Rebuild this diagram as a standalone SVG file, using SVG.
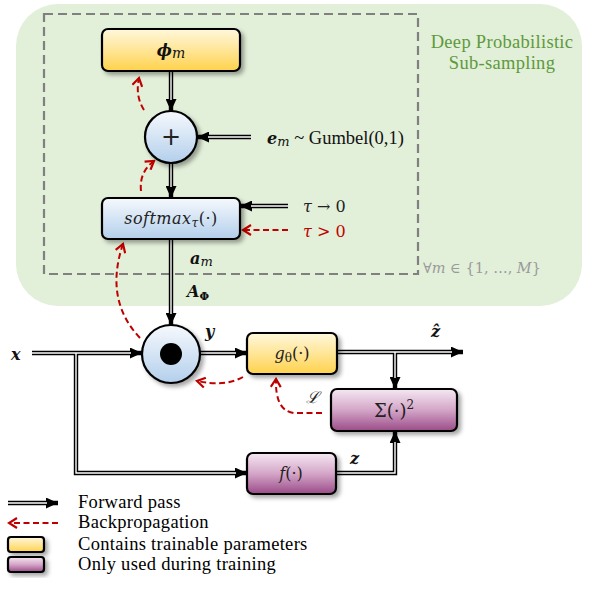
<svg xmlns="http://www.w3.org/2000/svg" width="598" height="593" viewBox="0 0 598 593">
<defs>
<linearGradient id="gy" x1="0" y1="0" x2="0" y2="1"><stop offset="0" stop-color="#fff8dc"/><stop offset="0.5" stop-color="#ffe597"/><stop offset="1" stop-color="#ffd24c"/></linearGradient>
<linearGradient id="gb" x1="0" y1="0" x2="0" y2="1"><stop offset="0" stop-color="#f6f9fd"/><stop offset="1" stop-color="#b3cfec"/></linearGradient>
<linearGradient id="gp" x1="0" y1="0" x2="0" y2="1"><stop offset="0" stop-color="#f5e8f2"/><stop offset="0.5" stop-color="#d4a6c8"/><stop offset="1" stop-color="#9a4b88"/></linearGradient>
<filter id="sh" x="-20%" y="-20%" width="150%" height="160%"><feDropShadow dx="3" dy="3" stdDeviation="2" flood-color="#000" flood-opacity="0.35"/></filter>
<marker id="ah" markerUnits="userSpaceOnUse" markerWidth="12" markerHeight="11" viewBox="0 0 12 11" refX="12" refY="5.5" orient="auto"><path d="M0,0 L12,5.5 L0,11 z" fill="#000"/></marker>
<marker id="rh" markerUnits="userSpaceOnUse" markerWidth="12" markerHeight="12" viewBox="0 0 12 12" refX="10" refY="6" orient="auto"><path d="M2,1 L10,6 L2,11" fill="none" stroke="#c00000" stroke-width="2.2"/></marker>
<style>
.box{stroke:#000;stroke-width:2.2;filter:url(#sh)}
.dl{fill:none;stroke:#000;stroke-width:4.4}
.dw{fill:none;stroke:#fff;stroke-width:1.4}
.red{fill:none;stroke:#c00000;stroke-width:2;stroke-dasharray:6,3.5}
.t{font-family:"Liberation Serif","DejaVu Serif",serif;font-size:18.5px;fill:#000;letter-spacing:0.3px}
.m{font-family:"DejaVu Serif","Liberation Serif",serif;font-style:italic;font-size:16px;fill:#222}
.b{font-family:"DejaVu Serif","Liberation Serif",serif;font-style:italic;font-weight:bold;font-size:16px;fill:#111}
</style>
</defs>
<rect x="16" y="4" width="566" height="302" rx="42" fill="#e2efd9"/>
<rect x="44" y="14" width="374" height="260" fill="none" stroke="#808080" stroke-width="2.2" stroke-dasharray="9,5"/>
<text class="t" x="502" y="48" text-anchor="middle" style="fill:#5e9a3c">Deep Probabilistic</text>
<text class="t" x="502" y="69" text-anchor="middle" style="fill:#5e9a3c">Sub-sampling</text>
<text x="423" y="273" font-family="DejaVu Serif,serif" font-size="14.5" fill="#9a9a9a"><tspan font-style="italic">∀m</tspan> ∈ {1, …, <tspan font-style="italic">M</tspan>}</text>

<g id="connectors">
<path class="dl" d="M171,71 V111" marker-end="url(#ah)"/><path class="dw" d="M171,71 V100"/>
<path class="dl" d="M171,163 V198" marker-end="url(#ah)"/><path class="dw" d="M171,163 V187"/>
<path class="dl" d="M251,137 H197" marker-end="url(#ah)"/><path class="dw" d="M251,137 H208"/>
<path class="dl" d="M288,206 H240" marker-end="url(#ah)"/><path class="dw" d="M288,206 H251"/>
<path class="dl" d="M171,239 V325" marker-end="url(#ah)"/><path class="dw" d="M171,239 V314"/>
<path class="dl" d="M32,353 H142" marker-end="url(#ah)"/>
<path class="dl" d="M76,353 V473 H247" marker-end="url(#ah)"/>
<path class="dw" d="M32,353 H131"/><path class="dw" d="M76,353 V473 H236"/>
<path class="dl" d="M200,353 H247" marker-end="url(#ah)"/><path class="dw" d="M200,353 H236"/>
<path class="dl" d="M337,352 H463" marker-end="url(#ah)"/>
<path class="dl" d="M395,352 V389" marker-end="url(#ah)"/>
<path class="dw" d="M337,352 H452"/><path class="dw" d="M395,352 V378"/>
<path class="dl" d="M336,473 H395 V431" marker-end="url(#ah)"/><path class="dw" d="M336,473 H395 V442"/>
<path class="red" d="M288,230 H243" marker-end="url(#rh)"/>
<path class="red" d="M144,110 Q135,96 139,78" marker-end="url(#rh)"/>
<path class="red" d="M141,191 Q139,172 154,161" marker-end="url(#rh)"/>
<path class="red" d="M140,338 Q104,300 123,244" marker-end="url(#rh)"/>
<path class="red" d="M243,377 Q225,387 197,381" marker-end="url(#rh)"/>
<path class="red" d="M322,413 H294 Q275,411 276,379" marker-end="url(#rh)"/>
</g>

<g id="phi"><rect class="box" x="102" y="29" width="138" height="42" rx="6" fill="url(#gy)"/>
<text class="b" x="171" y="56" text-anchor="middle" font-size="18">ϕ<tspan font-weight="normal" font-size="14" dy="2">m</tspan></text></g>
<g id="plus"><circle class="box" cx="171" cy="137" r="26" fill="url(#gb)"/>
<text x="171" y="145" text-anchor="middle" font-family="DejaVu Sans,sans-serif" font-size="24" fill="#222">+</text></g>
<g id="softmax"><rect class="box" x="102" y="198" width="138" height="41" rx="6" fill="url(#gb)"/>
<text class="m" x="171" y="224" text-anchor="middle" letter-spacing="0.5">softmax<tspan font-size="12" dy="3">τ</tspan><tspan dy="-3" font-style="normal">(·)</tspan></text></g>
<g id="dot"><circle class="box" cx="171" cy="354" r="29" fill="url(#gb)"/><circle cx="171" cy="354" r="11" fill="#000"/></g>
<g id="g"><rect class="box" x="247" y="333" width="90" height="41" rx="6" fill="url(#gy)"/>
<text class="m" x="292" y="359" text-anchor="middle">g<tspan font-size="12" dy="3" font-style="normal">θ</tspan><tspan dy="-3" font-style="normal">(·)</tspan></text></g>
<g id="sum"><rect class="box" x="331" y="389" width="126" height="42" rx="6" fill="url(#gp)"/>
<text x="394" y="417" text-anchor="middle" font-family="DejaVu Serif,serif" font-size="18" fill="#222">Σ(·)<tspan font-size="12" dy="-8">2</tspan></text></g>
<g id="f"><rect class="box" x="247" y="453" width="89" height="41" rx="6" fill="url(#gp)"/>
<text class="m" x="291" y="479" text-anchor="middle" font-size="17">f<tspan font-style="normal">(·)</tspan></text></g>

<g id="labels">
<text class="b" x="267" y="144">e<tspan font-weight="normal" font-size="13" dy="2">m</tspan><tspan dy="-2" font-style="normal" font-weight="normal" font-family="Liberation Serif,serif" font-size="18.5"> ~ Gumbel(0,1)</tspan></text>
<text class="m" x="303" y="212" font-size="17">τ <tspan font-style="normal">→ 0</tspan></text>
<text class="m" x="303" y="237" font-size="17" style="fill:#c00000">τ <tspan font-style="normal">&gt; 0</tspan></text>
<text class="b" x="190" y="264">a<tspan font-weight="normal" font-size="13" dy="2">m</tspan></text>
<text class="b" x="187" y="297">A<tspan font-size="11" dy="3" font-style="normal">Φ</tspan></text>
<text class="b" x="11" y="360" font-size="17">x</text>
<text class="b" x="205" y="337">y</text>
<text class="b" x="431" y="337">ẑ</text>
<text class="b" x="350" y="464">z</text>
<text class="m" x="306" y="403">ℒ</text>
</g>

<g id="legend">
<path class="dl" d="M8,503 H58" marker-end="url(#ah)"/><path class="dw" d="M8,503 H47"/>
<path class="red" d="M58,523 H9" marker-end="url(#rh)"/>
<rect class="box" x="8" y="537" width="36" height="15" rx="3" fill="url(#gy)"/>
<rect class="box" x="8" y="557" width="36" height="15" rx="3" fill="url(#gp)"/>
<text class="t" x="78" y="508">Forward pass</text>
<text class="t" x="78" y="528">Backpropagation</text>
<text class="t" x="78" y="550">Contains trainable parameters</text>
<text class="t" x="78" y="570">Only used during training</text>
</g>
</svg>
